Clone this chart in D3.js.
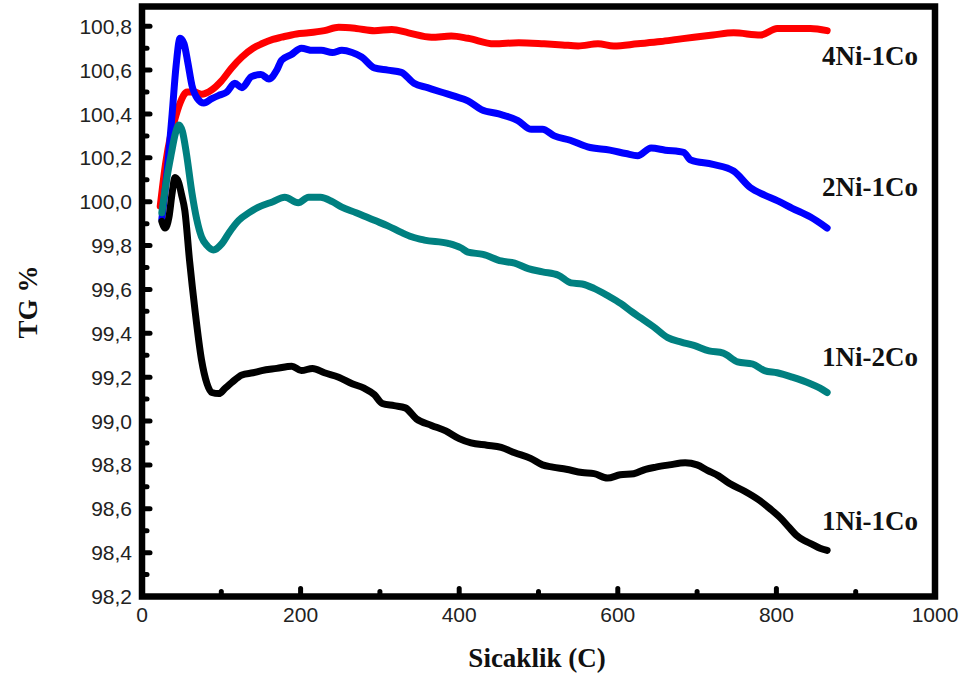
<!DOCTYPE html>
<html>
<head>
<meta charset="utf-8">
<script src="https://cdn.jsdelivr.net/npm/d3@7"></script>
<style>
  html, body { margin: 0; padding: 0; background: #fff; }
  svg { display: block; }
</style>
</head>
<body>
<svg id="chart" width="966" height="677"></svg>
<script>
// ---- data ----
const xTicks = [0, 200, 400, 600, 800, 1000];
const yTicks = [98.2, 98.4, 98.6, 98.8, 99.0, 99.2, 99.4, 99.6, 99.8, 100.0, 100.2, 100.4, 100.6, 100.8];
const seriesNames = ["4Ni-1Co", "2Ni-1Co", "1Ni-2Co", "1Ni-1Co"];
const seriesColors = ["#ff0000", "#0000ff", "#008080", "#000000"];

const tempRed = [23,30,36,41,48,57,66,75,88,100,113,126,140,151,165,176,195,210,230,248,270,293,315,336,365,390,411,444,475,507,530,550,575,595,625,654,675,696,720,746,780,801,825,843,864];
const tgRed = [99.98,100.18,100.30,100.37,100.45,100.50,100.50,100.49,100.51,100.55,100.61,100.66,100.70,100.72,100.74,100.75,100.765,100.77,100.78,100.795,100.79,100.78,100.785,100.77,100.75,100.755,100.745,100.72,100.725,100.72,100.715,100.71,100.72,100.71,100.72,100.73,100.74,100.75,100.76,100.77,100.76,100.79,100.79,100.79,100.78];

const tempBlue = [25,32,38,43,48,53,58,63,70,78,88,97,107,117,126,138,150,160,170,176,188,201,215,226,240,252,265,277,293,310,327,343,360,377,395,411,428,450,474,491,505,520,540,562,590,610,625,642,660,683,692,720,746,767,785,801,820,843,864];
const tgBlue = [99.92,100.15,100.40,100.62,100.745,100.72,100.63,100.53,100.47,100.45,100.47,100.485,100.50,100.54,100.52,100.57,100.58,100.56,100.60,100.645,100.67,100.70,100.69,100.69,100.68,100.69,100.68,100.66,100.61,100.60,100.59,100.54,100.52,100.50,100.48,100.46,100.42,100.40,100.37,100.33,100.33,100.30,100.28,100.25,100.235,100.22,100.21,100.245,100.235,100.225,100.19,100.17,100.14,100.065,100.03,100.005,99.97,99.93,99.88];

const tempTeal = [25,31,37,42,46.5,51,56,63,69,75,82,90,101,110,122,135,147,165,180,197,210,225,240,252,270,293,310,327,340,356,386,402,411,430,453,470,487,505,525,541,555,570,588,604,617,629,645,663,680,696,715,733,751,770,785,801,820,843,855,864];
const tgTeal = [99.95,100.10,100.22,100.31,100.35,100.32,100.22,100.04,99.92,99.84,99.80,99.78,99.81,99.86,99.915,99.95,99.975,100.00,100.02,99.995,100.02,100.02,100.00,99.975,99.95,99.915,99.89,99.86,99.84,99.825,99.81,99.79,99.77,99.76,99.73,99.72,99.695,99.68,99.665,99.63,99.625,99.605,99.57,99.535,99.50,99.47,99.43,99.38,99.36,99.345,99.32,99.31,99.27,99.26,99.23,99.22,99.20,99.17,99.15,99.13];

const tempBlack = [25,29,34,38,41.5,46,50,54,60,67,75,82,88,97,105,113,126,140,151,170,189,201,215,230,248,265,280,293,303,318,332,346,365,383,400,415,435,453,470,490,505,518,535,555,570,587,603,620,635,648,665,685,700,713,727,741,760,778,792,806,816,825,835,844,855,864];
const tgBlack = [99.91,99.88,99.93,100.04,100.11,100.09,100.03,99.96,99.73,99.50,99.28,99.17,99.13,99.125,99.15,99.175,99.21,99.22,99.23,99.24,99.25,99.23,99.24,99.22,99.20,99.17,99.15,99.12,99.08,99.07,99.06,99.01,98.98,98.955,98.92,98.90,98.89,98.88,98.855,98.83,98.80,98.79,98.78,98.765,98.76,98.74,98.755,98.76,98.78,98.79,98.80,98.81,98.80,98.775,98.75,98.715,98.68,98.64,98.60,98.555,98.515,98.48,98.455,98.44,98.42,98.41];

// ---- layout ----
const svg = d3.select("#chart");
const L = 142, R = 935, T = 6.5, B = 596.5;
const x = d3.scaleLinear().domain([0, 1000]).range([L, R]);
const y = d3.scaleLinear().domain([98.2, 100.89]).range([B, T]);

const series = [
  {name: seriesNames[0], color: seriesColors[0], t: tempRed, v: tgRed, labelY: 65},
  {name: seriesNames[1], color: seriesColors[1], t: tempBlue, v: tgBlue, labelY: 196},
  {name: seriesNames[2], color: seriesColors[2], t: tempTeal, v: tgTeal, labelY: 366},
  {name: seriesNames[3], color: seriesColors[3], t: tempBlack, v: tgBlack, labelY: 530}
];

const line = d3.line()
  .x(d => x(d[0]))
  .y(d => y(d[1]))
  .curve(d3.curveMonotoneX);

const gLines = svg.append("g");
series.forEach(s => {
  const pts = s.t.map((t, i) => [t, s.v[i]]);
  gLines.append("path")
    .attr("d", line(pts))
    .attr("fill", "none")
    .attr("stroke", s.color)
    .attr("stroke-width", 7)
    .attr("stroke-linejoin", "round")
    .attr("stroke-linecap", "round");
});

// series labels
series.forEach(s => {
  svg.append("text")
    .attr("x", 822)
    .attr("y", s.labelY)
    .attr("font-family", "'Liberation Serif', 'Times New Roman', serif")
    .attr("font-weight", "bold")
    .attr("font-size", 27)
    .attr("fill", "#111")
    .text(s.name);
});

// ---- frame and ticks ----
const tickStyle = sel => sel.attr("stroke", "#000").attr("stroke-width", 5).attr("stroke-linecap", "round");

const xMinor = d3.range(100, 1000, 200);
const gx = svg.append("g");
xTicks.slice(1, -1).forEach(v => {
  gx.append("line").attr("x1", x(v)).attr("x2", x(v)).attr("y1", B).attr("y2", B - 8).call(tickStyle);
});
xMinor.forEach(v => {
  gx.append("line").attr("x1", x(v)).attr("x2", x(v)).attr("y1", B).attr("y2", B - 5).call(tickStyle);
});
xTicks.forEach(v => {
  gx.append("text")
    .attr("x", x(v)).attr("y", 622)
    .attr("text-anchor", "middle")
    .attr("font-family", "'Liberation Sans', Arial, sans-serif")
    .attr("font-size", 21)
    .attr("fill", "#222")
    .text(v);
});

const fmt = v => d3.format(".1f")(v).replace(".", ",");
const yMinor = d3.range(98.3, 100.85, 0.2);
const gy = svg.append("g");
yTicks.forEach(v => {
  if (v > 98.21) gy.append("line").attr("x1", L).attr("x2", L + 8).attr("y1", y(v)).attr("y2", y(v)).call(tickStyle);
  gy.append("text")
    .attr("x", 132).attr("y", y(v))
    .attr("dy", "0.36em")
    .attr("text-anchor", "end")
    .attr("font-family", "'Liberation Sans', Arial, sans-serif")
    .attr("font-size", 21)
    .attr("fill", "#222")
    .text(fmt(v));
});
yMinor.forEach(v => {
  gy.append("line").attr("x1", L).attr("x2", L + 5).attr("y1", y(v)).attr("y2", y(v)).call(tickStyle);
});

// frame
svg.append("rect")
  .attr("x", L).attr("y", T)
  .attr("width", R - L).attr("height", B - T)
  .attr("fill", "none")
  .attr("stroke", "#000")
  .attr("stroke-width", 6.5);

// axis titles
svg.append("text")
  .attr("x", 537).attr("y", 667)
  .attr("text-anchor", "middle")
  .attr("font-family", "'Liberation Serif', 'Times New Roman', serif")
  .attr("font-weight", "bold")
  .attr("font-size", 27)
  .attr("fill", "#111")
  .text("Sicaklik (C)");

svg.append("text")
  .attr("transform", "translate(37,302) rotate(-90)")
  .attr("text-anchor", "middle")
  .attr("font-family", "'Liberation Serif', 'Times New Roman', serif")
  .attr("font-weight", "bold")
  .attr("font-size", 27)
  .attr("fill", "#111")
  .text("TG %");
</script>
</body>
</html>
